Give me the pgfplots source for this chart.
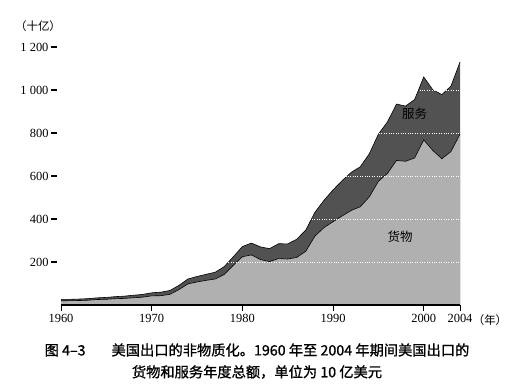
\documentclass[border=0pt]{standalone}
\usepackage{fontspec}
\setmainfont{Liberation Serif}
\newfontfamily\cjk{Noto Sans CJK SC}
\newfontfamily\cjkb[FakeBold=1]{Noto Sans CJK SC}
\usepackage{pgfplots}
\usepackage{pgfplotstable}
\pgfplotsset{compat=1.18}
\definecolor{darkg}{RGB}{82,82,82}
\definecolor{lightg}{RGB}{176,176,176}
\pgfplotstableread{
year goods total
1960 19.7 25.9
1961 20.1 26.4
1962 20.8 27.7
1963 22.3 29.6
1964 25.5 33.3
1965 26.5 35.3
1966 29.3 38.9
1967 30.7 41.3
1968 33.6 45.5
1969 36.4 49.2
1970 42.5 56.6
1971 43.3 59.7
1972 49.4 67.2
1973 71.4 91.2
1974 98.3 120.9
1975 107.1 132.6
1976 114.7 142.7
1977 120.8 152.3
1978 142.1 178.4
1979 184.4 224.1
1980 224.3 271.8
1981 233.0 288.0
1982 211.2 270.2
1983 201.8 262.1
1984 215.9 285.1
1985 213.9 284.1
1986 221.3 306.0
1987 250.2 348.9
1988 320.2 431.1
1989 359.9 487.0
1990 387.4 535.2
1991 414.1 578.3
1992 439.6 616.9
1993 456.9 642.9
1994 502.9 703.3
1995 575.2 794.4
1996 612.1 851.6
1997 672.4 934.5
1998 668.4 925.2
1999 684.0 955.9
2000 768.0 1060.6
2001 718.7 1000.9
2002 680.4 978.7
2003 713.4 1017.8
2004 795.0 1130.0
}\datatable
\begin{document}
\begin{tikzpicture}
\useasboundingbox (0,0) rectangle (506bp,389bp);
\begin{axis}[
  at={(61bp,84bp)}, anchor=south west,
  scale only axis, width=399bp, height=258bp,
  xmin=1960, xmax=2004, ymin=0, ymax=1200,
  axis x line*=bottom, axis y line*=left,
  y axis line style={draw=none},
  x axis line style={line width=1.6bp},
  xtick={1960,1970,1980,1990,2000,2004},
  xticklabels={1960,1970,1980,1990,2000,2004},
  ytick={200,400,600,800,1000,1200},
  yticklabels={200,400,600,800,1\ 000,1\ 200},
  tick align=outside,
  major tick length=6bp,
  xtick style={black, line width=1bp},
  ytick style={black, line width=1.2bp, xshift=-4bp},
  ticklabel style={font=\fontsize{12.5}{14}\selectfont},
  yticklabel style={xshift=-3bp},
  ymajorgrids,
  grid style={white, dotted, line width=0.8bp},
  axis on top,
  clip=false,
]
\addplot[fill=darkg, draw=none] table[x=year,y=total] {\datatable} \closedcycle;
\addplot[fill=lightg, draw=none] table[x=year,y=goods] {\datatable} \closedcycle;
\addplot[black, line width=0.6bp] table[x=year,y=total] {\datatable};
\addplot[black, line width=0.6bp] table[x=year,y=goods] {\datatable};
\node[font=\cjk\fontsize{12.5}{14}\selectfont] at (axis cs:1999,888) {服务};
\node[font=\cjk\fontsize{12.5}{14}\selectfont] at (axis cs:1997.4,316) {货物};
\end{axis}
\node[font=\cjk\fontsize{11.5}{13}\selectfont] at (490bp,69bp) {（年）};
\node[font=\cjk\fontsize{11.5}{13}\selectfont] at (38bp,363bp) {（十亿）};
\node[font=\cjkb\fontsize{14.3}{16}\selectfont] at (257bp,39bp) {图 4–3\hspace{26bp}美国出口的非物质化。1960 年至 2004 年期间美国出口的};
\node[font=\cjkb\fontsize{14.3}{16}\selectfont] at (257bp,17bp) {货物和服务年度总额，单位为 10 亿美元};
\end{tikzpicture}
\end{document}
